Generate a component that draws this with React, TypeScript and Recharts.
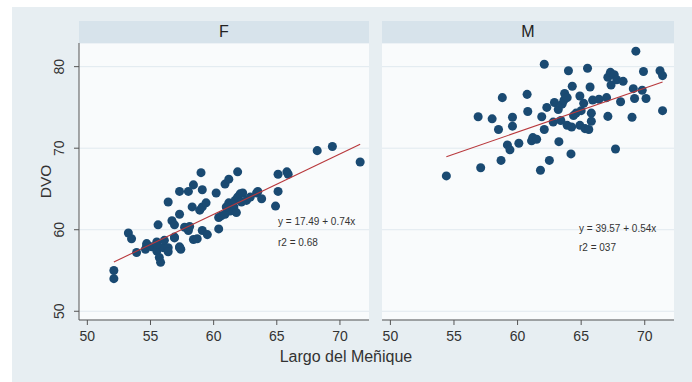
import React from 'react';
import { ScatterChart, Scatter, XAxis, YAxis, CartesianGrid } from 'recharts';

// Largo del Meñique (x) vs DVO (y), female panel
const femaleX = [
  52.1, 52.1, 53.25, 53.5, 53.9, 54.7, 54.6, 55.1, 55.6, 55.5, 55.5, 55.7, 55.8, 56.0, 56.1,
  56.4, 56.4, 56.4, 56.7, 56.9, 56.9, 57.3, 57.3, 57.3, 57.4, 57.7, 58.0, 58.0, 58.1, 58.3,
  58.4, 58.4, 58.7, 58.9, 59.0, 59.1, 59.1, 59.1, 59.4, 59.5, 60.2, 60.4, 60.4, 60.6, 60.9,
  60.9, 61.2, 61.2, 61.3, 61.6, 61.7, 61.8, 61.9, 61.9, 62.1, 62.2, 62.3, 62.6, 62.9, 63.4,
  63.5, 63.8, 64.9, 65.1, 65.1, 65.8, 65.9, 68.2, 69.4, 71.6, 55.5, 56.9, 61.0, 54.7, 57.3,
];
const femaleY = [
  55.0, 54.0, 59.6, 58.9, 57.2, 58.1, 57.6, 57.9, 60.6, 58.5, 57.4, 56.6, 56.0, 57.8, 58.7,
  57.8, 57.3, 63.4, 61.1, 60.6, 59.0, 61.9, 64.7, 57.9, 57.6, 60.3, 59.9, 64.7, 60.4, 62.8,
  65.5, 58.8, 58.9, 62.4, 67.0, 62.8, 64.9, 59.9, 63.3, 59.4, 64.5, 60.1, 61.5, 61.7, 65.6,
  61.9, 66.2, 63.3, 62.3, 62.8, 63.6, 62.1, 67.1, 64.0, 64.4, 63.4, 64.5, 63.6, 64.0, 64.5,
  64.7, 63.8, 62.9, 66.8, 64.7, 67.1, 66.8, 69.7, 70.2, 68.3, 58.2, 59.1, 62.8, 58.3, 57.8,
];

// male panel
const maleX = [
  54.4, 56.9, 57.1, 58.0, 58.5, 58.8, 58.7, 59.2, 59.4, 59.6, 59.6, 60.1, 60.75, 60.8, 61.1,
  61.2, 61.5, 61.8, 61.9, 62.1, 62.1, 62.3, 62.5, 62.8, 62.9, 63.2, 63.25, 63.4, 63.5, 63.65,
  63.7, 63.9, 64.0, 63.9, 64.2, 64.25, 64.3, 64.4, 64.6, 64.9, 64.9, 65.0, 65.2, 65.3, 65.5,
  65.6, 65.7, 65.8, 65.8, 65.9, 66.4, 67.0, 67.1, 67.1, 67.3, 67.35, 67.6, 67.7, 67.8, 68.1,
  68.3, 69.0, 69.1, 69.2, 69.3, 69.8, 69.9, 70.1, 71.2, 71.4, 71.4,
];
const maleY = [
  66.6, 73.85, 67.6, 73.6, 72.3, 76.2, 68.5, 70.4, 69.8, 72.7, 73.8, 70.6, 76.6, 74.5, 70.9,
  71.3, 71.1, 67.3, 73.85, 72.3, 80.3, 75.0, 68.5, 73.2, 75.6, 74.75, 70.8, 73.4, 75.4, 75.9,
  76.7, 76.2, 79.5, 72.8, 69.3, 72.6, 77.6, 74.0, 74.3, 76.4, 72.8, 74.6, 75.5, 72.4, 79.8,
  72.3, 77.5, 74.3, 73.3, 75.9, 76.0, 76.2, 73.9, 78.7, 79.3, 77.75, 79.0, 69.9, 78.4, 75.7,
  78.2, 73.8, 77.3, 76.1, 81.9, 77.1, 79.4, 76.1, 79.5, 78.9, 74.6,
];

// fitted lines: intercept, slope, x range
const femaleFit = { a: 17.49, b: 0.74, from: 52.1, to: 71.6 };
const maleFit = { a: 39.57, b: 0.54, from: 54.4, to: 71.4 };
const femaleText = ['y = 17.49 + 0.74x', 'r2 = 0.68'];
const maleText = ['y = 39.57 + 0.54x', 'r2 = 037'];

const xTicks = [50, 55, 60, 65, 70];
const yTicks = [50, 60, 70, 80];

const FONT = '"Liberation Sans", Arial, Helvetica, sans-serif';
const DOT = '#1a4a72';
const FIT = '#b8383c';

const toPoints = (xs: number[], ys: number[]) => xs.map((x, i) => ({ x, y: ys[i] }));
const fitLine = (f: { a: number; b: number; from: number; to: number }) => [
  { x: f.from, y: f.a + f.b * f.from },
  { x: f.to, y: f.a + f.b * f.to },
];

const YTick = (props: any) => {
  const { x, y, payload } = props;
  return (
    <text
      x={x - 4}
      y={y}
      transform={`rotate(-90 ${x - 4} ${y})`}
      textAnchor="middle"
      fill="#333"
      fontSize={14}
      fontFamily={FONT}
    >
      {payload.value}
    </text>
  );
};

function Panel(props: {
  data: { x: number; y: number }[];
  fit: { x: number; y: number }[];
  showY: boolean;
  width: number;
  marginLeft: number;
  marginRight: number;
}) {
  const { data, fit, showY, width, marginLeft, marginRight } = props;
  return (
    <ScatterChart
      width={width}
      height={382}
      margin={{ top: 43, right: marginRight, left: marginLeft, bottom: 32 }}
    >
      <CartesianGrid vertical={false} stroke="#e1e9ef" fill="#f9fbfc" />
      <XAxis
        type="number"
        dataKey="x"
        domain={[49.34, 72.3]}
        ticks={xTicks}
        allowDataOverflow
        height={30}
        stroke="#555"
        tickSize={5}
        tick={{ fill: '#333', fontSize: 14, fontFamily: FONT }}
        tickMargin={6}
      />
      <YAxis
        type="number"
        dataKey="y"
        domain={[48.93, 82.9]}
        ticks={yTicks}
        allowDataOverflow
        hide={!showY}
        width={79}
        stroke="#555"
        tickSize={5}
        tickMargin={6}
        tick={<YTick />}
        label={{
          value: 'DVO',
          angle: -90,
          position: 'insideLeft',
          offset: 45,
          style: { fill: '#333', fontSize: 15.5, fontFamily: FONT, textAnchor: 'middle' },
        }}
      />
      <Scatter data={data} fill={DOT} isAnimationActive={false} shape="circle" r={4} />
      <Scatter
        data={fit}
        line={{ stroke: FIT, strokeWidth: 1.1 }}
        lineType="joint"
        shape={() => <g />}
        isAnimationActive={false}
      />
    </ScatterChart>
  );
}

const stripStyle: React.CSSProperties = {
  position: 'absolute',
  top: 21,
  height: 22,
  background: '#d7e3eb',
  fontFamily: FONT,
  fontSize: 16,
  color: '#222',
  textAlign: 'center',
  lineHeight: '22px',
};

const noteStyle: React.CSSProperties = {
  position: 'absolute',
  fontFamily: FONT,
  fontSize: 10,
  color: '#333',
  whiteSpace: 'nowrap',
  lineHeight: '12px',
};

export default function App() {
  return (
    <div
      style={{
        position: 'absolute',
        left: 0,
        top: 0,
        width: 692,
        height: 382,
        background: '#fff',
        overflow: 'hidden',
      }}
    >
      <div style={{ position: 'absolute', left: 12, top: 7, width: 680, height: 375, background: '#e7eef2' }} />
      <div style={{ position: 'absolute', left: 0, top: 0 }}>
        <Panel
          data={toPoints(femaleX, femaleY)}
          fit={fitLine(femaleFit)}
          showY
          width={380}
          marginLeft={0}
          marginRight={11}
        />
      </div>
      <div style={{ position: 'absolute', left: 370, top: 0 }}>
        <Panel
          data={toPoints(maleX, maleY)}
          fit={fitLine(maleFit)}
          showY={false}
          width={322}
          marginLeft={12}
          marginRight={18}
        />
      </div>
      <div style={{ ...stripStyle, left: 79, width: 290 }}>F</div>
      <div style={{ ...stripStyle, left: 382, width: 292 }}>M</div>
      <div style={{ ...noteStyle, left: 278, top: 216 }}>{femaleText[0]}</div>
      <div style={{ ...noteStyle, left: 278, top: 237 }}>{femaleText[1]}</div>
      <div style={{ ...noteStyle, left: 579, top: 223 }}>{maleText[0]}</div>
      <div style={{ ...noteStyle, left: 579, top: 242 }}>{maleText[1]}</div>
      <div
        style={{
          position: 'absolute',
          left: 0,
          width: 692,
          top: 348,
          textAlign: 'center',
          fontFamily: FONT,
          fontSize: 16,
          color: '#333',
        }}
      >
        Largo del Meñique
      </div>
    </div>
  );
}
